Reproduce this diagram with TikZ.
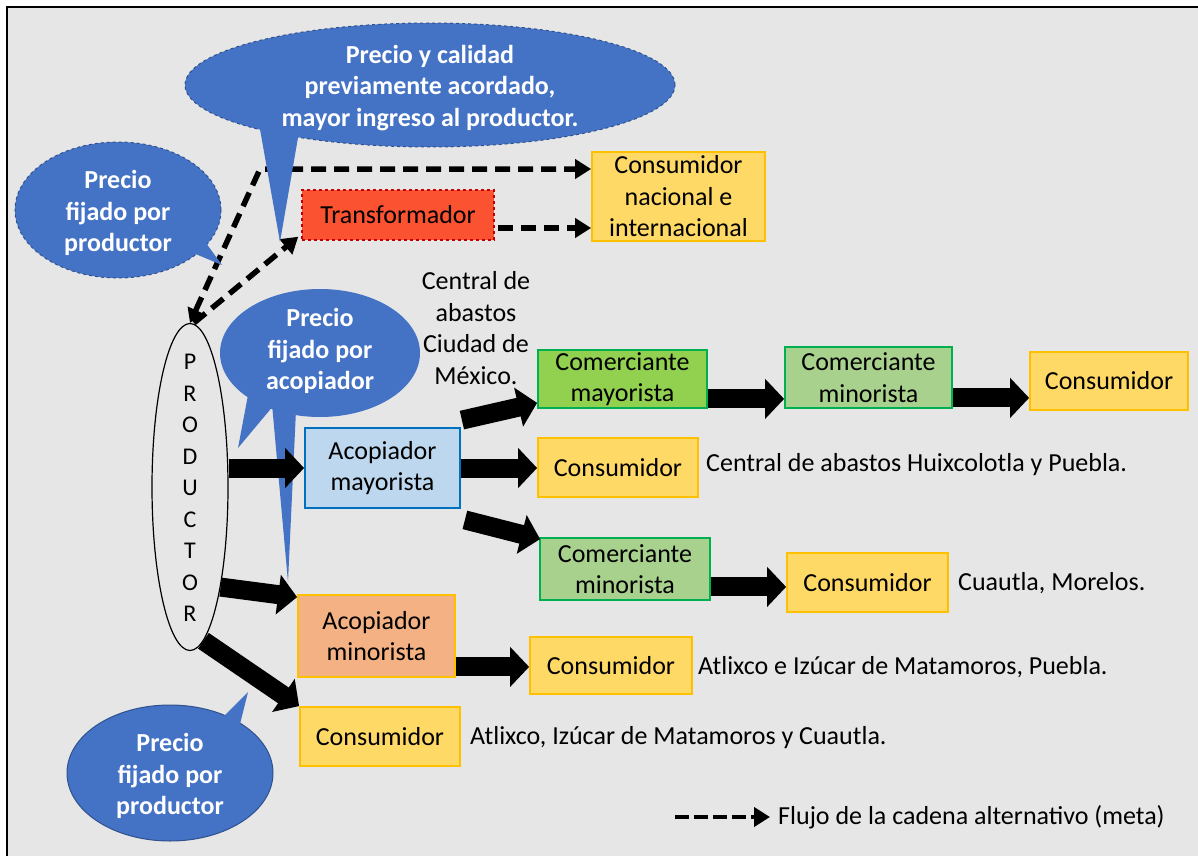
\documentclass[tikz,border=0pt]{standalone}
\usepackage{fontspec}
\setmainfont{Carlito}
\usetikzlibrary{arrows.meta,shapes.geometric,calc}
\definecolor{bg}{HTML}{E7E6E6}
\definecolor{bubF}{HTML}{4472C4}
\definecolor{bubD}{HTML}{2F528F}
\definecolor{consF}{HTML}{FFD966}
\definecolor{consD}{HTML}{FFC000}
\definecolor{acmayF}{HTML}{BDD7EE}
\definecolor{acmayD}{HTML}{0070C0}
\definecolor{acminF}{HTML}{F4B183}
\definecolor{comayF}{HTML}{92D050}
\definecolor{cominF}{HTML}{A9D18E}
\definecolor{greenD}{HTML}{00B050}
\definecolor{transF}{HTML}{FB5232}
\definecolor{transD}{HTML}{C00000}
\begin{document}
\begin{tikzpicture}[x=1pt,y=-1pt,
  fs/.style={font=\fontsize{26pt}{31.5pt}\selectfont},
  box/.style={draw, line width=1.8pt, inner sep=0pt, align=center, fs},
  cons/.style={box, fill=consF, draw=consD},
  comin/.style={box, fill=cominF, draw=greenD},
  lbl/.style={inner sep=0pt, anchor=west, fs},
  bub/.style={ellipse, fill=bubF, inner sep=0pt},
  bubtext/.style={inner sep=0pt, text=white, align=center,
              font=\fontsize{26pt}{31.5pt}\selectfont\bfseries},
  blk/.style={line width=19pt, -{Triangle[length=19pt,width=39pt]}},
  dashline/.style={line width=5.5pt, dash pattern=on 15pt off 8pt,
                   -{Triangle[length=16pt,width=19pt]}}
]
\useasboundingbox (0,0) rectangle (1198,856);
\fill[white] (0,0) rectangle (1198,856);
\fill[bg] (7,7) rectangle (1198,856);
\draw[line width=2.5pt] (7,856) -- (7,7) -- (1198,7);

% boxes
\node[cons, minimum width=173pt, minimum height=89pt] (cnac) at (678.5,196.5) {Consumidor\\nacional e\\internacional};
\node[box, fill=transF, draw=transD, dashed, line width=1.5pt, minimum width=192pt, minimum height=50pt] (trans) at (398,215) {Transformador};
\node[box, fill=acmayF, draw=acmayD, minimum width=155pt, minimum height=80pt] (acmay) at (382.5,468) {Acopiador\\mayorista};
\node[box, fill=acminF, draw=consD, minimum width=157pt, minimum height=82pt] (acmin) at (376.5,636) {Acopiador\\minorista};
\node[cons, minimum width=160pt, minimum height=59pt] (cons5) at (380,736.5) {Consumidor};
\node[box, fill=comayF, draw=greenD, minimum width=169pt, minimum height=58pt] (comay) at (622.5,379) {Comerciante\\mayorista};
\node[comin, minimum width=167pt, minimum height=61pt] (comin1) at (868.5,377.5) {Comerciante\\minorista};
\node[cons, minimum width=158pt, minimum height=58pt] (cons1) at (1109,381) {Consumidor};
\node[cons, minimum width=160pt, minimum height=59pt] (cons2) at (618,467.5) {Consumidor};
\node[comin, minimum width=170pt, minimum height=62pt] (comin2) at (625,569) {Comerciante\\minorista};
\node[cons, minimum width=161pt, minimum height=59pt] (cons3) at (867.5,582.5) {Consumidor};
\node[cons, minimum width=162pt, minimum height=57pt] (cons4) at (611,665.5) {Consumidor};

% labels
\node[align=center, fs, inner sep=0pt] (cdmx) at (476,328) {Central de\\abastos\\Ciudad de\\México.};
\node[lbl] (lhuix) at (706,465) {Central de abastos Huixcolotla y Puebla.};
\node[lbl] (lcuau) at (958,583) {Cuautla, Morelos.};
\node[lbl] (latl1) at (698,667) {Atlixco e Izúcar de Matamoros, Puebla.};
\node[lbl] (latl2) at (470,738) {Atlixco, Izúcar de Matamoros y Cuautla.};

% productor
\node[ellipse, draw, line width=1.2pt, minimum width=76pt, minimum height=327pt, inner sep=0pt] (prod) at (190,487) {};
\node[align=center, font=\fontsize{24pt}{31.5pt}\selectfont, inner sep=0pt] (prodtxt) at (190,488) {P\\R\\O\\D\\U\\C\\T\\O\\R};

% dashed flows
\coordinate (corner) at (260,169);
\draw[dashline, {Triangle[length=14pt,width=17pt]}-{Triangle[length=16pt,width=19pt]}] (prod.north) -- (corner) -- (corner -| cnac.west);
\draw[dashline] ([xshift=4pt]prod.north) -- ([xshift=-3pt,yshift=4pt]trans.south west);
\coordinate (t1) at ($(trans.east)+(3,13)$);
\draw[dashline] (t1) -- (t1 -| cnac.west);

% bubbles
\node[bub, minimum width=490pt, minimum height=124pt, draw=bubD, dashed, line width=1pt] (b1) at (430,85) {};
\fill[bubF] (258,118) -- (300,126) -- (280,242) -- cycle;
\node[bubtext] (b1t) at (430,88) {Precio y calidad\\previamente acordado,\\mayor ingreso al productor.};
\node[bub, minimum width=206pt, minimum height=136pt, draw=bubD, dashed, line width=1pt] (b2) at (118,210) {};
\fill[bubF] (198,232) -- (186,250) -- (222,265) -- cycle;
\node[bubtext] (b2t) at (118,213) {Precio\\fijado por\\productor};
\node[bub, minimum width=200pt, minimum height=128pt] (b3) at (320,353) {};
\fill[bubF] (248,395) -- (274,405) -- (238,448) -- cycle;
\fill[bubF] (272,404) -- (296,410) -- (288,582) -- cycle;
\node[bubtext] (b3t) at (320,351) {Precio\\fijado por\\acopiador};
\node[bub, minimum width=206pt, minimum height=136pt, draw=bubD, line width=1pt] (b4) at (170,773) {};
\fill[bubF] (218,722) -- (238,732) -- (248,692) -- cycle;
\node[bubtext] (b4t) at (170,776) {Precio\\fijado por\\productor};

% block arrows
\draw[blk] (acmay.west -| prod.east) -- (acmay.west);
\draw[blk] (prod.-73) -- ($(acmin.north west)+(0,3)$);
\draw[blk] (prod.-85) -- (cons5.north west);
\draw[blk] ($(acmay.north east)+(1,-7)$) -- ($(comay.south west)+(0,-6)$);
\draw[blk] (acmay.east) -- (acmay.east -| cons2.west);
\draw[blk] ($(acmay.south east)+(4,11)$) -- ($(comin2.north west)+(1,2)$);
\coordinate (a7) at ($(comay.south east)+(0,-10)$);
\draw[blk] (a7) -- (a7 -| comin1.west);
\coordinate (a8) at ($(comin1.south east)+(0,-11)$);
\draw[blk] (a8) -- (a8 -| cons1.west);
\coordinate (a9) at ($(comin2.south east)+(0,-14)$);
\draw[blk] (a9) -- (a9 -| cons3.west);
\coordinate (a10) at ($(acmin.south east)+(0,-11)$);
\draw[blk] (a10) -- (a10 -| cons4.west);

% legend
\coordinate (lg1) at (675,817);
\coordinate (lg2) at (770,817);
\draw[dashline, line width=4.5pt, dash pattern=on 14pt off 5pt] (lg1) -- (lg2);
\node[lbl] (lgt) at (778,817) {Flujo de la cadena alternativo (meta)};
\end{tikzpicture}
\end{document}
